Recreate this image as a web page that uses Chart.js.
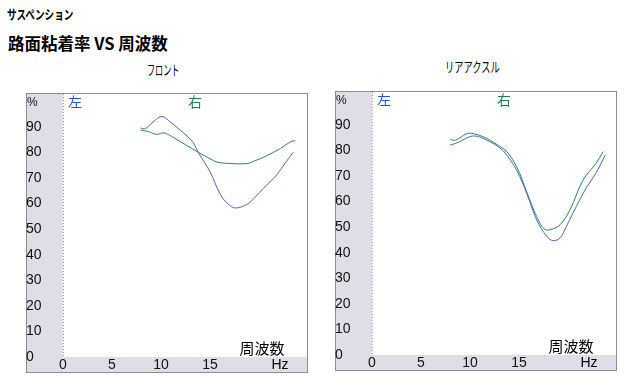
<!DOCTYPE html>
<html><head><meta charset="utf-8">
<script src="https://cdn.jsdelivr.net/npm/chart.js@4/dist/chart.umd.min.js"></script>
<style>
html,body{margin:0;padding:0;background:#fff;width:629px;height:377px;overflow:hidden;position:relative;font-family:"Noto Sans CJK JP","Noto Sans",sans-serif;}
.t{position:absolute;white-space:nowrap;color:#000;transform-origin:left center;}
canvas{position:absolute;}
</style></head><body>
<div class="t" id="t1" style="left:7px;top:4px;font-size:13px;font-weight:bold;transform:scaleX(0.74);">サスペンション</div>
<div class="t" id="t2" style="left:8px;top:31px;font-size:16.5px;font-weight:bold;">路面粘着率 VS 周波数</div>
<div class="t" style="left:147px;top:59px;font-size:14px;transform:scaleX(0.58);">フロント</div>
<div class="t" style="left:445px;top:56px;font-size:14px;transform:scaleX(0.66);">リアアクスル</div>
<canvas id="c1" width="282" height="280" style="left:26px;top:93px;"></canvas>
<canvas id="c2" width="282" height="280" style="left:335px;top:91px;"></canvas>
<script>
// Tick values
const yTicks = [0,10,20,30,40,50,60,70,80,90];
const xTickLabels = [0,5,10,15];

// フロント  左 (blue)
const frontLeftHz  = [7.9, 8.4, 9.2, 10.1, 11.0, 12.0, 12.65, 13.3, 13.8, 15.0, 16.05, 16.8, 17.6, 18.8, 19.6, 20.5, 21.8, 22.6, 23.5];
const frontLeftPct = [89.6, 89.3, 92.0, 94.1, 91.8, 88.6, 86.5, 83.8, 80.1, 72.5, 63.6, 60.0, 58.3, 59.8, 62.5, 66.2, 71.2, 75.5, 80.1];
// フロント  右 (green)
const frontRightHz  = [7.9, 8.7, 9.6, 10.3, 11.3, 12.65, 13.8, 14.8, 15.7, 17.1, 18.8, 19.6, 20.5, 22.2, 23.2, 23.7];
const frontRightPct = [88.8, 88.2, 87.1, 87.7, 85.8, 82.7, 80.1, 78.0, 76.3, 75.7, 75.7, 76.8, 78.2, 81.6, 84.2, 84.6];
// リアアクスル 左 (blue)
const rearLeftHz  = [7.97, 8.8, 9.67, 10.35, 11.2, 12.05, 13.0, 13.75, 14.8, 15.8, 16.8, 17.8, 18.5, 19.2, 19.8, 20.5, 21.9, 22.9, 23.8];
const rearLeftPct = [82.1, 83.2, 84.9, 85.7, 85.0, 83.4, 81.2, 78.3, 72.0, 63.1, 52.9, 46.6, 44.7, 45.9, 50.0, 55.5, 65.6, 71.4, 78.3];
// リアアクスル 右 (green)
const rearRightHz  = [7.97, 8.5, 9.67, 10.35, 11.4, 12.05, 12.9, 13.75, 14.8, 15.8, 16.8, 17.65, 18.5, 19.2, 20.2, 21.5, 22.9, 23.6];
const rearRightPct = [84.4, 84.0, 86.6, 86.6, 85.3, 84.0, 82.0, 79.6, 73.3, 63.7, 54.2, 49.1, 49.4, 51.0, 56.7, 68.2, 75.2, 79.6];

const BLUE = '#5068b4', GREEN = '#2f8762';
const pts = (xs, ys) => xs.map((x, i) => ({x, y: ys[i]}));

const framePlugin = {
  id: 'frame',
  beforeDraw(chart) {
    const {ctx, chartArea: a, width, height} = chart;
    ctx.save();
    ctx.fillStyle = '#dfdee6';
    ctx.fillRect(0, 0, width, height);
    ctx.fillStyle = '#ffffff';
    ctx.fillRect(a.left, 0, width - a.left, a.bottom);
    ctx.strokeStyle = '#9a9aa4';
    ctx.lineWidth = 1;
    ctx.setLineDash([1, 2]);
    ctx.beginPath();
    ctx.moveTo(Math.round(a.left) + 0.5, 1);
    ctx.lineTo(Math.round(a.left) + 0.5, a.bottom);
    ctx.stroke();
    ctx.setLineDash([]);
    ctx.strokeStyle = '#8e8e96';
    ctx.strokeRect(0.5, 0.5, width - 1, height - 1);
    ctx.restore();
  },
  afterDraw(chart) {
    const {ctx, chartArea: a} = chart;
    ctx.save();
    ctx.textBaseline = 'middle';
    ctx.fillStyle = '#111';
    ctx.font = '12px "Liberation Sans", Arial, sans-serif';
    ctx.textAlign = 'left';
    ctx.fillText('%', 1, 10);
    ctx.font = '14px "Noto Sans CJK JP", sans-serif';
    ctx.fillStyle = '#2a5bb5';
    ctx.fillText('左', a.left + 5, 9);
    ctx.fillStyle = '#2a7a55';
    ctx.fillText('右', a.left + 125, 9);
    ctx.fillStyle = '#000';
    ctx.font = '15px "Noto Sans CJK JP", sans-serif';
    ctx.textAlign = 'center';
    ctx.fillText('周波数', a.left + 199, a.bottom - 9);
    ctx.font = '14px "Liberation Sans", Arial, sans-serif';
    ctx.fillText('Hz', a.left + 217, a.bottom + 8);
    ctx.restore();
  }
};

function makeChart(id, leftPts, rightPts) {
  return new Chart(document.getElementById(id), {
    type: 'line',
    data: {
      datasets: [
        {label: '左', data: leftPts, borderColor: BLUE, borderWidth: 1, pointRadius: 0, tension: 0.35, fill: false},
        {label: '右', data: rightPts, borderColor: GREEN, borderWidth: 1, pointRadius: 0, tension: 0.35, fill: false}
      ]
    },
    options: {
      responsive: false,
      animation: false,
      layout: {padding: {top: 2, left: 0, right: 0, bottom: 0}},
      plugins: {legend: {display: false}, tooltip: {enabled: false}},
      scales: {
        x: {
          type: 'linear', min: 0, max: 25,
          grid: {display: false, drawTicks: false},
          border: {display: false},
          afterFit: s => { s.height = 16; },
          ticks: {
            stepSize: 5, autoSkip: false, padding: 0, color: '#111', maxRotation: 0,
            font: {family: '"Liberation Sans", Arial, sans-serif', size: 14},
            callback: v => xTickLabels.includes(v) ? String(v) : ''
          }
        },
        y: {
          type: 'linear', min: 0, max: 100,
          grid: {display: false, drawTicks: false},
          border: {display: false},
          afterFit: s => { s.width = 37; },
          ticks: {
            stepSize: 10, autoSkip: false, crossAlign: 'far', padding: 0, color: '#111',
            font: {family: '"Liberation Sans", Arial, sans-serif', size: 14},
            callback: v => yTicks.includes(v) ? String(v) : ''
          }
        }
      }
    },
    plugins: [framePlugin]
  });
}

makeChart('c1', pts(frontLeftHz, frontLeftPct), pts(frontRightHz, frontRightPct));
makeChart('c2', pts(rearLeftHz, rearLeftPct), pts(rearRightHz, rearRightPct));
</script>
</body></html>
